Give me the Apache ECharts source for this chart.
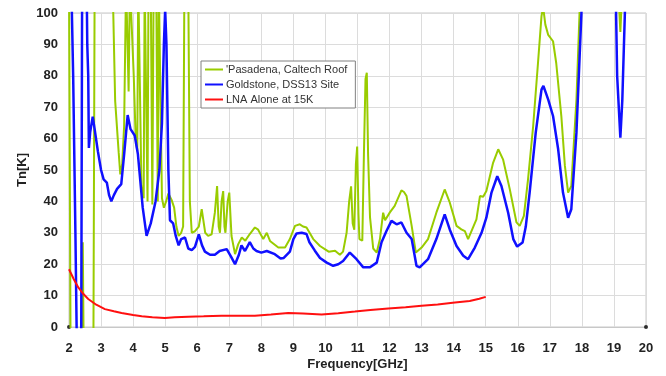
<!DOCTYPE html>
<html>
<head>
<meta charset="utf-8">
<script src="https://cdn.jsdelivr.net/npm/echarts@6/dist/echarts.min.js"></script>
<style>
  html, body { margin: 0; padding: 0; background: #fff; }
  #chart { width: 666px; height: 376px; }
</style>
</head>
<body>
<div id="chart"></div>
<script>
// [GHz, K]; values past 0..100 run off the plot and get clipped
var pasadena = [
  [2.0,110],[2.05,-10],[2.4,-10],[2.43,27],[2.46,-10],[2.76,-10],[2.8,110],[3.36,110],
  [3.44,72],[3.55,55.6],[3.6,48.6],[3.66,52],[3.72,64],[3.78,110],[3.82,110],[3.86,75],
  [3.9,110],[3.95,110],[4.02,80],[4.08,60],[4.13,56],[4.16,110],[4.2,110],[4.26,45],
  [4.33,41],[4.36,110],[4.41,110],[4.45,40],[4.48,110],[4.55,110],[4.6,39],[4.64,110],
  [4.72,110],[4.77,40],[4.8,110],[4.86,110],[4.9,41],[4.96,38],[5.03,40],[5.1,42.5],
  [5.15,43],[5.2,40.5],[5.28,38],[5.35,32],[5.42,29],[5.5,30],[5.56,32],[5.6,110],
  [5.72,110],[5.77,40],[5.83,30],[5.93,30.5],[6.05,32],[6.14,37.5],[6.19,38],[6.25,30],
  [6.34,29],[6.45,29.5],[6.55,36.4],[6.62,44.9],[6.67,32],[6.71,30],[6.76,40],[6.81,43.3],
  [6.85,32],[6.88,30],[6.95,40],[7.0,42.8],[7.07,29],[7.18,23.2],[7.28,26.4],[7.39,28.5],
  [7.5,27.5],[7.64,29.6],[7.8,31.7],[7.9,31],[8.06,28],[8.17,30],[8.27,27.4],[8.53,25.3],
  [8.74,25.3],[8.89,28],[9.05,32.2],[9.2,32.7],[9.3,32],[9.41,31.7],[9.62,28],[9.83,25.8],
  [9.98,24.8],[10.1,24],[10.3,24.3],[10.45,23],[10.55,24],[10.66,30],[10.74,40],[10.8,44.8],
  [10.85,33],[10.9,31],[10.95,52],[10.99,57.5],[11.03,36],[11.06,28],[11.1,28],[11.15,27.5],
  [11.2,55],[11.25,79],[11.29,81],[11.33,55],[11.39,35],[11.49,25],[11.6,23.7],[11.7,28],
  [11.8,36.4],[11.86,34],[12.01,36.5],[12.16,38.6],[12.22,39],[12.37,43.5],[12.45,43],
  [12.53,41.7],[12.69,32.2],[12.82,23.7],[13.0,25.3],[13.2,28],[13.46,36.4],[13.72,43.8],
  [13.88,39.6],[14.09,32.2],[14.24,31.1],[14.35,30.5],[14.45,28],[14.71,34.3],[14.82,41.7],
  [14.92,41.5],[15.02,43.3],[15.23,52.3],[15.39,56.6],[15.54,53.4],[15.75,43.9],[15.96,33.3],
  [16.06,32.2],[16.19,35.4],[16.32,47],[16.48,64],[16.63,84],[16.74,99],[16.79,102],
  [16.86,96.3],[16.95,93],[17.1,91],[17.2,84],[17.36,67],[17.47,51.3],[17.57,42.8],
  [17.67,44.9],[17.83,72.4],[17.93,101],[18.0,110],[19.12,110],[19.2,94],[19.27,110]
];
var goldstone = [
  [2.07,110],[2.1,95],[2.13,80],[2.2,30],[2.25,-10],[2.38,-10],[2.41,110],[2.55,110],
  [2.57,90],[2.6,80],[2.62,57],[2.66,62],[2.74,67],[2.8,63],[2.9,56],[3.0,50],[3.08,47],
  [3.18,46],[3.25,42],[3.32,40],[3.4,42],[3.5,44],[3.63,45.5],[3.72,55],[3.83,67.5],
  [3.92,63],[4.05,61],[4.15,55],[4.3,38],[4.42,29],[4.55,33],[4.7,40],[4.82,50],[4.9,65],
  [4.96,90],[5.0,101],[5.04,90],[5.1,50],[5.15,34],[5.25,33],[5.33,29],[5.42,26],[5.5,28],
  [5.62,28.5],[5.72,25],[5.83,24.5],[5.93,25.5],[6.05,29.5],[6.15,26],[6.24,24],[6.4,23],
  [6.55,23],[6.7,24.2],[6.92,24.8],[7.05,22.5],[7.18,20],[7.3,23],[7.38,26],[7.49,24.2],
  [7.64,27],[7.75,25],[7.85,24.2],[8.0,23.7],[8.17,24.2],[8.42,23.2],[8.6,21.8],[8.7,22],
  [8.89,24],[9.0,28],[9.1,29.8],[9.26,30],[9.41,29.6],[9.5,27],[9.67,24.3],[9.83,22],
  [10.04,20.5],[10.24,19.5],[10.4,20],[10.55,21],[10.76,23.7],[10.97,21.6],[11.18,19],
  [11.39,19],[11.6,20.5],[11.75,27],[11.9,30.5],[12.06,33.8],[12.22,32.7],[12.37,33.3],
  [12.53,30],[12.69,28],[12.84,19.5],[12.94,19],[13.2,21.6],[13.46,28],[13.72,35.9],
  [13.88,31],[14.09,25.8],[14.3,22.7],[14.45,21.6],[14.66,25.3],[14.87,30],[15.02,34.8],
  [15.18,42.8],[15.36,48],[15.49,44.9],[15.7,36.4],[15.86,28],[15.98,25.6],[16.15,26.9],
  [16.25,32],[16.37,42.8],[16.56,61.9],[16.74,75.6],[16.8,76.8],[16.95,72.4],[17.1,67.2],
  [17.26,56.6],[17.41,42.8],[17.57,34.8],[17.67,37.5],[17.83,61.9],[17.99,101],[18.1,110],
  [19.05,110],[19.1,80],[19.2,60.3],[19.26,72],[19.37,110]
];
var lnaAlone = [
  [2.0,18.4],[2.15,15.2],[2.29,12.6],[2.45,10.5],[2.6,8.9],[2.85,7.1],[3.12,5.7],[3.4,5],
  [3.64,4.45],[4.0,3.8],[4.27,3.4],[4.6,3.1],[4.99,2.9],[5.3,3.1],[5.72,3.3],[6.2,3.4],
  [6.76,3.6],[7.3,3.6],[7.8,3.6],[8.3,4],[8.84,4.45],[9.3,4.3],[9.88,4],[10.4,4.4],
  [10.92,4.9],[11.4,5.4],[11.96,5.9],[12.5,6.3],[13.0,6.8],[13.5,7.2],[14.04,7.8],
  [14.5,8.3],[14.8,9],[15.0,9.6]
];
var axisEnds = [[2,0],[20,0]];
var seriesNames = ['\'Pasadena, Caltech Roof', 'Goldstone, DSS13 Site', 'LNA Alone at 15K'];

var chart = echarts.init(document.getElementById('chart'));
var axisFont = { fontFamily: 'Liberation Sans', fontWeight: 'bold', fontSize: 13, color: '#222' };

var option = {
  backgroundColor: '#fff',
  animation: false,
  grid: {
    left: 69, right: 20, top: 13, bottom: 48,
    show: true, borderColor: '#c8c8c8', borderWidth: 1
  },
  legend: {
    data: seriesNames,
    orient: 'vertical',
    left: 201, top: 61,
    icon: 'rect',
    itemWidth: 18, itemHeight: 2,
    itemGap: 4,
    padding: [3, 8, 3, 4],
    borderColor: '#808080', borderWidth: 1,
    backgroundColor: '#fff',
    textStyle: { fontFamily: 'Liberation Sans', fontSize: 11, color: '#333', padding: [0, 0, 0, -2] }
  },
  xAxis: {
    type: 'value', min: 2, max: 20, interval: 1,
    name: 'Frequency[GHz]', nameLocation: 'middle', nameGap: 31,
    nameMoveOverlap: false,
    nameTextStyle: axisFont,
    axisLine: { lineStyle: { color: '#c8c8c8' } },
    axisTick: { show: false },
    axisLabel: Object.assign({ margin: 15 }, axisFont),
    splitLine: { lineStyle: { color: '#dcdcdc' } }
  },
  yAxis: {
    type: 'value', min: 0, max: 100, interval: 10,
    name: 'Tn[K]', nameLocation: 'middle', nameGap: 40, nameRotate: 90,
    nameMoveOverlap: false,
    nameTextStyle: axisFont,
    axisLine: { show: true, lineStyle: { color: '#c8c8c8' } },
    axisTick: { show: false },
    axisLabel: Object.assign({ margin: 11 }, axisFont),
    splitLine: { lineStyle: { color: '#dcdcdc' } }
  },
  series: [
    {
      name: seriesNames[0], type: 'line', data: pasadena,
      showSymbol: false, clip: true,
      lineStyle: { color: '#99cc00', width: 2 }, itemStyle: { color: '#99cc00' }
    },
    {
      name: seriesNames[1], type: 'line', data: goldstone,
      showSymbol: false, clip: true,
      lineStyle: { color: '#1010ff', width: 2.5 }, itemStyle: { color: '#1010ff' }
    },
    {
      name: seriesNames[2], type: 'line', data: lnaAlone,
      showSymbol: false, clip: true,
      lineStyle: { color: '#ff1010', width: 2 }, itemStyle: { color: '#ff1010' }
    },
    {
      name: 'ends', type: 'scatter', data: axisEnds,
      symbolSize: 4, itemStyle: { color: '#000' }, silent: true
    }
  ]
};
chart.setOption(option);
</script>
</body>
</html>
